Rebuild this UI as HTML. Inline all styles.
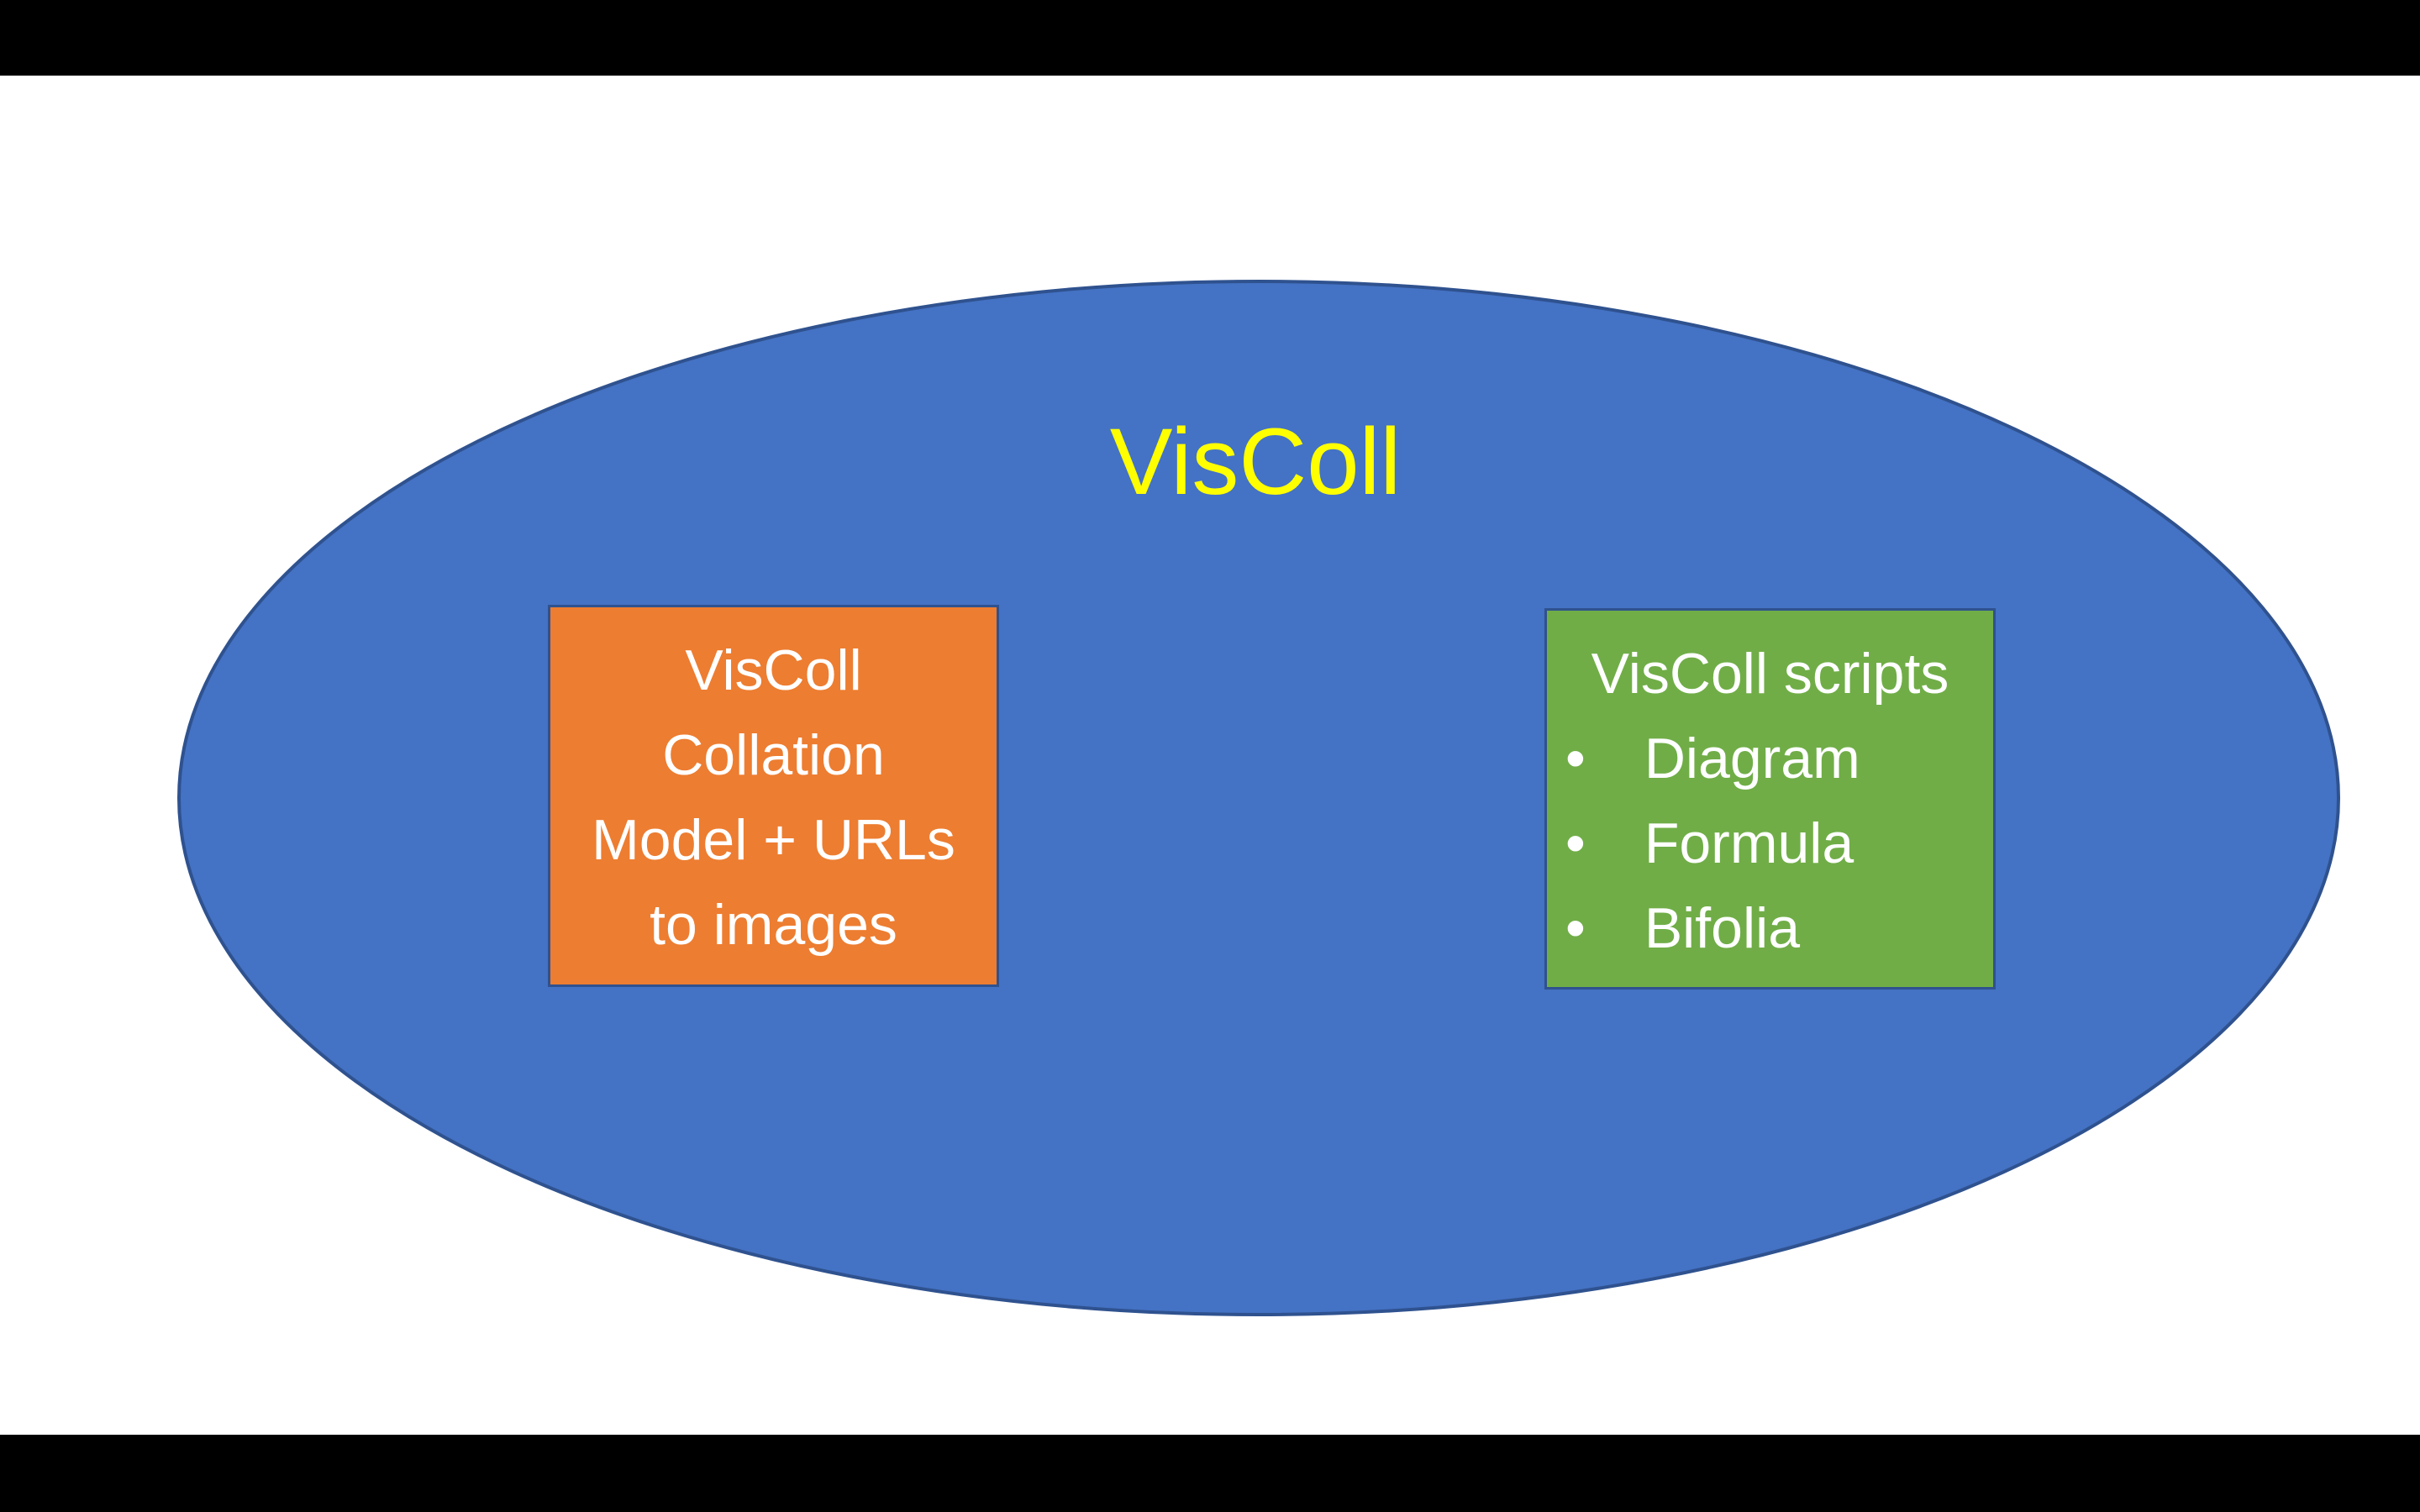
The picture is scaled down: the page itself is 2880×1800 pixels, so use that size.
<!DOCTYPE html>
<html><head><meta charset="utf-8"><style>
html,body{margin:0;padding:0;}
body{width:2880px;height:1800px;position:relative;background:#fff;overflow:hidden;font-family:"Liberation Sans",sans-serif;}
.bar{position:absolute;left:0;width:2880px;background:#000;}
.box{position:absolute;box-sizing:border-box;border:3px solid #2f528f;color:#fff;font-size:68px;line-height:101px;}
</style></head><body>
<div class="bar" style="top:0;height:90px"></div>
<div class="bar" style="top:1708px;height:92px"></div>
<svg width="2880" height="1800" style="position:absolute;left:0;top:0">
<ellipse cx="1498" cy="950" rx="1285" ry="615" fill="#4472c4" stroke="#2f528f" stroke-width="4"/>
<text x="1494" y="588" text-anchor="middle" font-family="Liberation Sans, sans-serif" font-size="112" fill="#ffff00">VisColl</text>
</svg>
<div class="box" style="left:652px;top:720px;width:537px;height:455px;background:#ed7d31;text-align:center;padding-top:25px;">VisColl<br>Collation<br>Model + URLs<br>to images</div>
<div class="box" style="left:1838px;top:724px;width:537px;height:454px;background:#70ad47;padding-top:25px;">
<div style="text-align:center">VisColl scripts</div>
<div style="padding-left:22px">•<span style="padding-left:70px">Diagram</span></div>
<div style="padding-left:22px">•<span style="padding-left:70px">Formula</span></div>
<div style="padding-left:22px">•<span style="padding-left:70px">Bifolia</span></div>
</div>
</body></html>
